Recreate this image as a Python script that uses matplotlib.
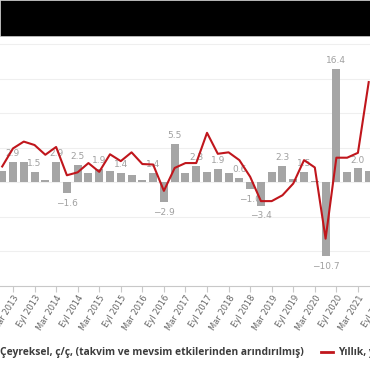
import numpy as np
import matplotlib.pyplot as plt
from matplotlib.patches import Rectangle, Patch
from matplotlib.lines import Line2D

# quarterly periods (Ara 2012 .. Haz 2021)
periods = ["Ara 2012",
           "Mar 2013", "Haz 2013", "Eyl 2013", "Ara 2013",
           "Mar 2014", "Haz 2014", "Eyl 2014", "Ara 2014",
           "Mar 2015", "Haz 2015", "Eyl 2015", "Ara 2015",
           "Mar 2016", "Haz 2016", "Eyl 2016", "Ara 2016",
           "Mar 2017", "Haz 2017", "Eyl 2017", "Ara 2017",
           "Mar 2018", "Haz 2018", "Eyl 2018", "Ara 2018",
           "Mar 2019", "Haz 2019", "Eyl 2019", "Ara 2019",
           "Mar 2020", "Haz 2020", "Eyl 2020", "Ara 2020",
           "Mar 2021", "Haz 2021"]

# quarter-on-quarter growth (bars), seasonally and calendar adjusted
qoq = [1.6,
       2.9, 2.9, 1.5, 0.3,
       2.9, -1.6, 2.5, 1.4,
       1.9, 1.6, 1.4, 1.1,
       0.3, 1.4, -2.9, 5.5,
       1.4, 2.3, 1.5, 1.9,
       1.4, 0.6, -1.0, -3.4,
       1.5, 2.3, 0.5, 1.5,
       0.1, -10.7, 16.4, 1.5,
       2.0, 1.6]

# annual growth (line, right axis)
yoy = [4.4,
       8.1, 9.5, 8.8, 6.8,
       8.4, 2.6, 3.2, 5.1,
       3.3, 6.9, 5.5, 7.3,
       4.9, 4.8, -0.6, 4.1,
       5.1, 5.1, 11.3, 7.0,
       7.3, 5.7, 2.3, -2.7,
       -2.7, -1.5, 0.9, 5.7,
       4.2, -10.4, 6.2, 6.2,
       7.2, 21.7]

# bars that carry a value label
labeled = [1, 3, 5, 6, 7, 9, 11, 14, 15, 16, 18, 20, 22, 23, 24, 26, 28, 30, 31, 33]

tick_labels = periods[1::2] + ["Eyl 2021"]

W, H = 370, 375
fig = plt.figure(figsize=(W / 100, H / 100), dpi=100)
# axes run past the figure edges (the reference is a crop of a wider chart)
ax = fig.add_axes([-40 / W, (H - 285.5) / H, 450 / W, (285.5 - 9.9) / H])

x = np.arange(len(periods))
ax.bar(x, qoq, width=0.74, color="#a5a5a5", zorder=2)
for i in labeled:
    v = qoq[i]
    txt = f"{v:.1f}".replace("-", "\u2212")
    ax.annotate(txt, (x[i], v), xytext=(0, 6 if v >= 0 else -7.5),
                textcoords="offset points", ha="center", va="center",
                fontsize=6.5, color="#a0a0a0", zorder=3)

ax.set_xlim(-3.915, 37.83)
ax.set_ylim(-15, 25)
ax.set_yticks(np.arange(-15, 26, 5))
ax.grid(axis="y", color="#efefef", linewidth=0.8, zorder=0)
ax.set_axisbelow(True)

tick_pos = np.arange(1, 36, 2)
ax.set_xticks(tick_pos)
ax.set_xticklabels(tick_labels, rotation=58, ha="right", va="top",
                   rotation_mode="anchor", fontsize=6, color="#666666")
ax.tick_params(axis="x", length=4, color="#c8c8c8", pad=2)
ax.tick_params(axis="y", length=0, labelsize=6, labelcolor="#666666")
for s in ["top", "left", "right"]:
    ax.spines[s].set_visible(False)
ax.spines["bottom"].set_color("#c8c8c8")

ax2 = ax.twinx()
ax2.plot(x, yoy, color="#c0161c", linewidth=1.5, zorder=4)
ax2.set_ylim(-20, 36.5)
ax2.tick_params(axis="y", length=0, labelsize=6, labelcolor="#666666")
for s in ax2.spines.values():
    s.set_visible(False)

handles = [Patch(facecolor="#a5a5a5"),
           Line2D([], [], color="#c0161c", linewidth=2)]
names = ["\u00c7eyreksel, \u00e7/\u00e7, (takvim ve mevsim etkilerinden ar\u0131nd\u0131r\u0131lm\u0131\u015f)",
         "Y\u0131ll\u0131k, y\u00fczde de\u011fi\u015fim"]
fig.legend(handles, names, ncol=2, loc="center left",
           bbox_to_anchor=(-17 / W, 1 - 353 / H), frameon=False,
           prop={"family": "Open Sans", "weight": "bold", "size": 7.4},
           labelcolor="#3c3c3c",
           handlelength=1.2, handleheight=0.8, handletextpad=0.5,
           columnspacing=1.6, borderpad=0, borderaxespad=0)

# black header band at the top of the crop
fig.add_artist(Rectangle((0, 1 - 36 / H), 1, 36 / H, transform=fig.transFigure,
                         facecolor="black", edgecolor="#cccccc", linewidth=0.5, zorder=10))

plt.savefig("out.png", dpi=100)
